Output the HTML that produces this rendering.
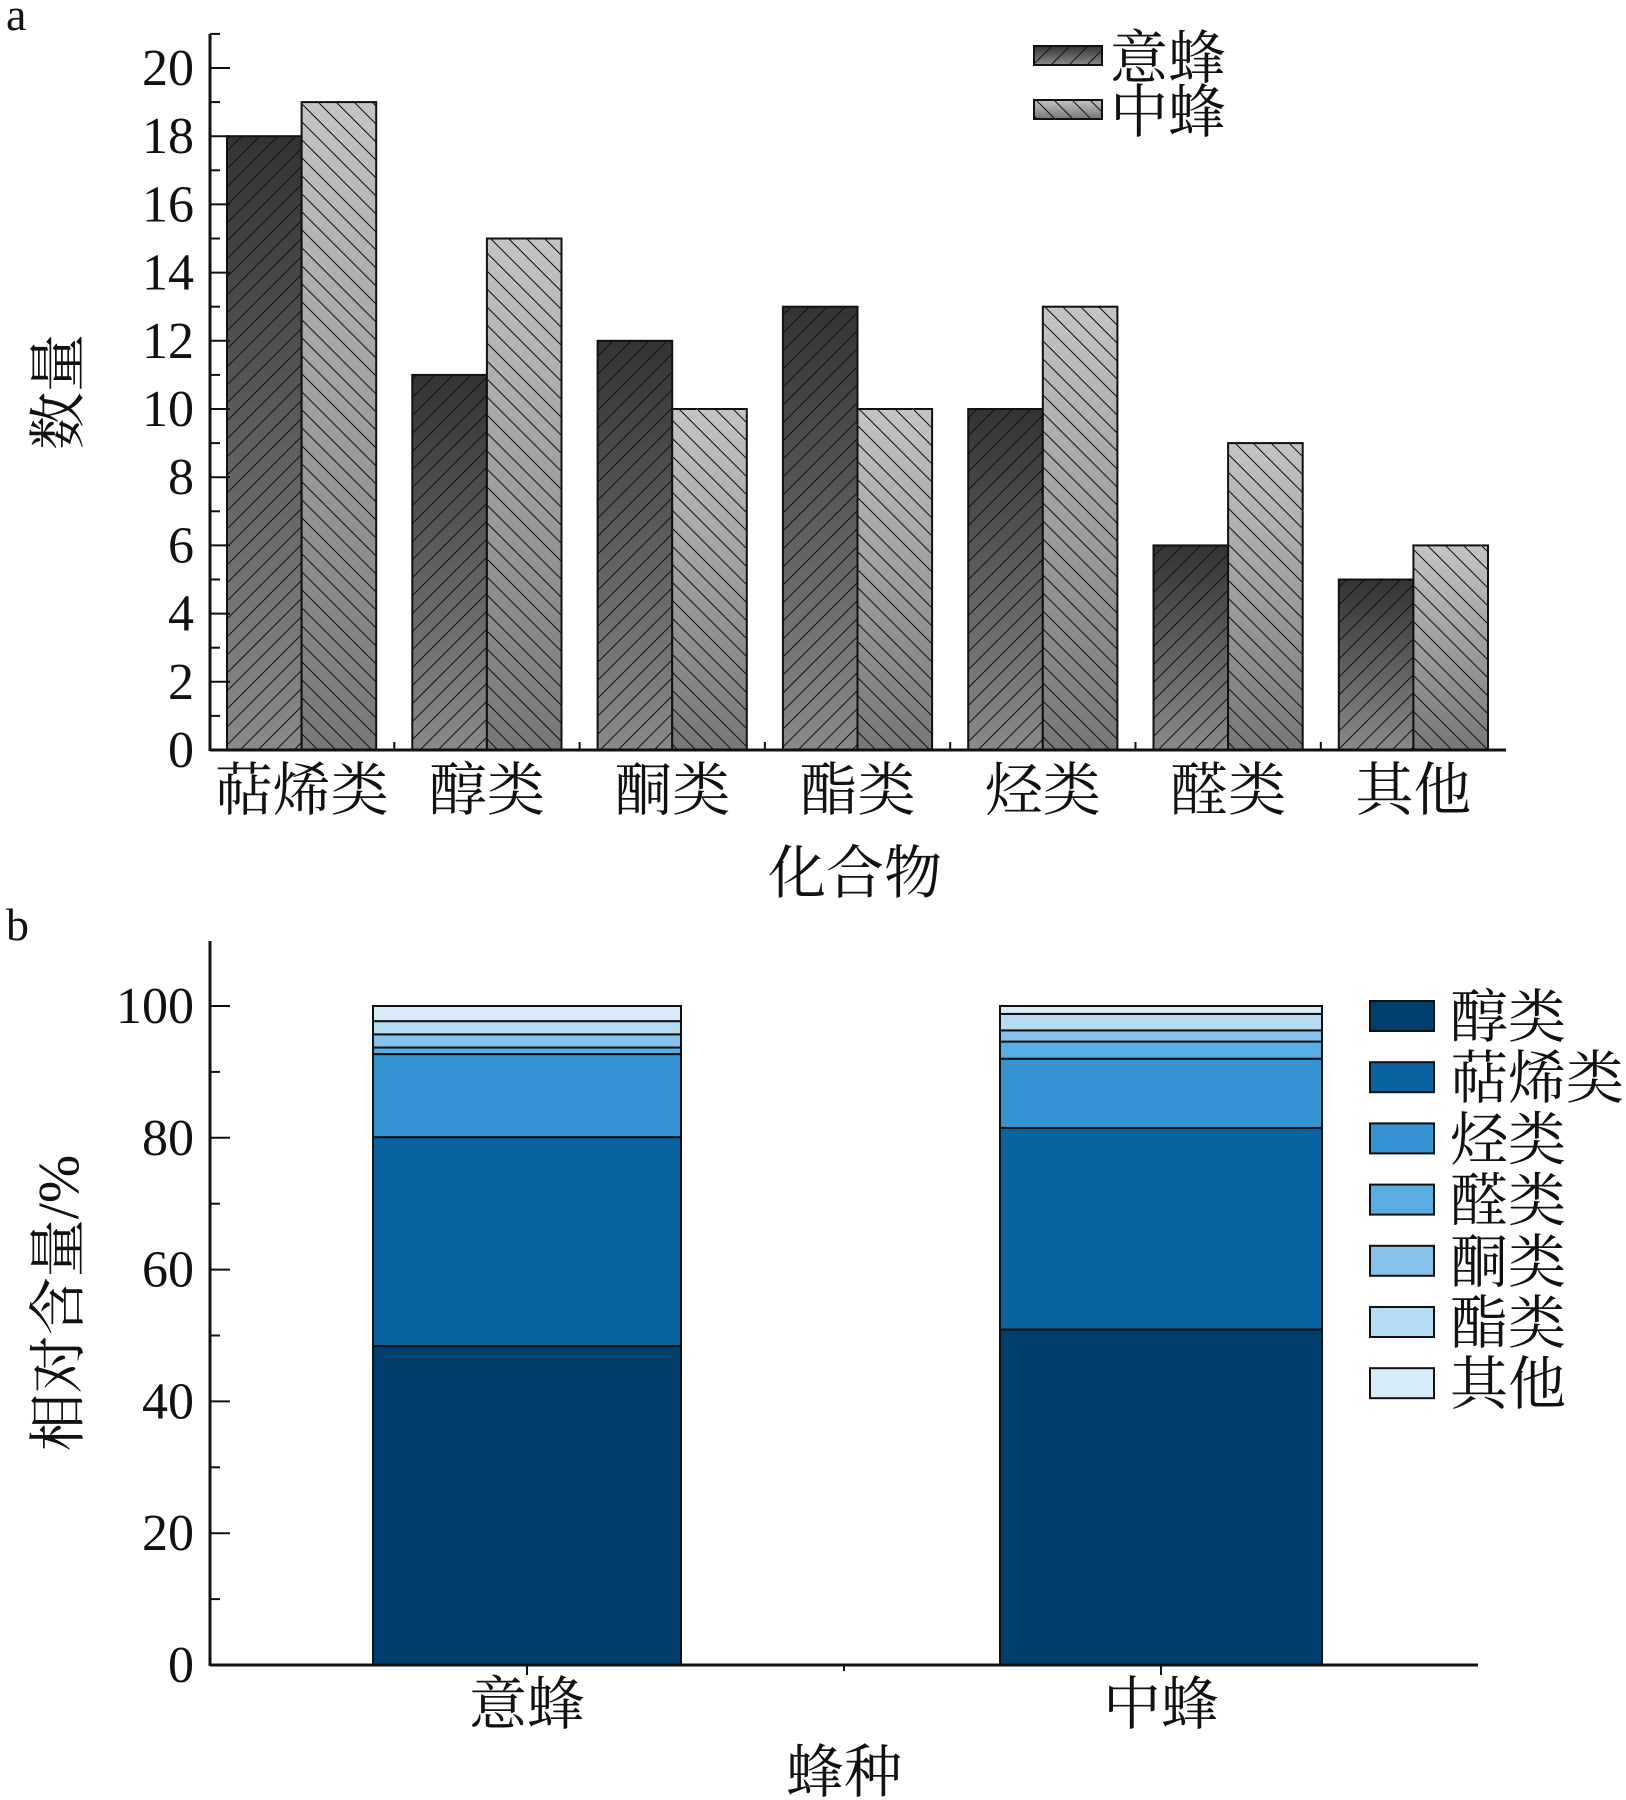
<!DOCTYPE html>
<html><head><meta charset="utf-8">
<style>
html,body{margin:0;padding:0;background:#fff;}
svg{display:block;}
text{font-family:"Liberation Serif","Noto Serif CJK SC",serif;fill:#111;}
</style></head>
<body>
<svg id="chart" width="1626" height="1800" viewBox="0 0 1626 1800" xmlns="http://www.w3.org/2000/svg">
<defs>
<linearGradient id="gDark" x1="0" y1="0" x2="0" y2="1"><stop offset="0" stop-color="#333"/><stop offset="1" stop-color="#8a8a8a"/></linearGradient>
<linearGradient id="gLight" x1="0" y1="0" x2="0" y2="1"><stop offset="0" stop-color="#c4c4c4"/><stop offset="1" stop-color="#777"/></linearGradient>
<pattern id="hatchF" width="18" height="18" patternUnits="userSpaceOnUse"><path d="M-2,20 L20,-2 M-2,2 L2,-2 M16,20 L20,16" stroke="#111" stroke-width="1"/></pattern>
<pattern id="hatchB" width="18" height="18" patternUnits="userSpaceOnUse"><path d="M-2,-2 L20,20 M16,-2 L20,2 M-2,16 L2,20" stroke="#111" stroke-width="1"/></pattern>
</defs>
<text x="6" y="30" font-size="46">a</text>
<text x="6" y="940" font-size="46">b</text>
<g id="pa"></g>
<g id="pb"></g>
</svg>
<script>
// Panel a data
const catsA = ["萜烯类","醇类","酮类","酯类","烃类","醛类","其他"];
const yiFeng = [18,11,12,13,10,6,5];
const zhongFeng = [19,15,10,10,13,9,6];
const ticksA = [0,2,4,6,8,10,12,14,16,18,20];
// Panel b data
const speciesB = ["意蜂","中蜂"];
const classesB = ["醇类","萜烯类","烃类","醛类","酮类","酯类","其他"];
const yiShares = [48.4,31.7,12.6,1.0,2.0,2.0,2.3];
const zhongShares = [50.9,30.6,10.5,2.6,1.7,2.5,1.2];
const ticksB = [0,20,40,60,80,100];

const NS="http://www.w3.org/2000/svg";
function mk(parent,tag,attrs,txt){const e=document.createElementNS(NS,tag);for(const k in attrs)e.setAttribute(k,attrs[k]);if(txt!==undefined)e.textContent=txt;parent.appendChild(e);return e;}
const TICK=52, CJK=58;

// ---------- Panel A ----------
const pa=document.getElementById('pa');
const ax0=210, ay0=750, ayTop=34, axRight=1506;
const yA=v=>ay0-v*34.1;
const groupX=i=>227+i*185.3;
const bw=74.6;
catsA.forEach((c,i)=>{
  const x=groupX(i);
  [[yiFeng,'gDark','hatchF','bar-yifeng-'],[zhongFeng,'gLight','hatchB','bar-zhongfeng-']].forEach((s,j)=>{
    const v=s[0][i], bx=x+j*bw, h=ay0-yA(v);
    const g=mk(pa,'g',{});
    
    
    mk(g,'rect',{x:bx,y:yA(v),width:bw,height:h,fill:'url(#'+s[1]+')'});
    mk(g,'rect',{x:bx,y:yA(v),width:bw,height:h,fill:'url(#'+s[2]+')',stroke:'#111','stroke-width':2});
  });
  const t=mk(pa,'text',{x:x+bw,y:810,'font-size':CJK,'text-anchor':'middle'},c);
  
  
  if(i>0){mk(pa,'line',{x1:x-18,x2:x-18,y1:ay0,y2:ay0-8,stroke:'#111','stroke-width':2});}
});
mk(pa,'line',{x1:ax0,x2:ax0,y1:ayTop,y2:ay0+1,stroke:'#111','stroke-width':3});
mk(pa,'line',{x1:ax0,x2:axRight,y1:ay0,y2:ay0,stroke:'#111','stroke-width':3});
for(let v=0;v<=21;v++){const y=yA(v);mk(pa,'line',{x1:ax0,x2:ax0+(v%2==0?20:10),y1:y,y2:y,stroke:'#111','stroke-width':2});}
ticksA.forEach(v=>{const t=mk(pa,'text',{x:194,y:yA(v)+17,'font-size':TICK,'text-anchor':'end'},v);
  
  });
let t=mk(pa,'text',{x:855,y:893,'font-size':CJK,'text-anchor':'middle'},"化合物");

t=mk(pa,'text',{x:0,y:0,'font-size':CJK,'text-anchor':'middle',transform:'translate(78,392) rotate(-90)'},"数量");

[['gDark','hatchF','意蜂',46],['gLight','hatchB','中蜂',100]].forEach((l,k)=>{
  const g=mk(pa,'g',{});
  
  
  mk(g,'rect',{x:1034,y:l[3],width:68,height:19,fill:'url(#'+l[0]+')'});
  mk(g,'rect',{x:1034,y:l[3],width:68,height:19,fill:'url(#'+l[1]+')',stroke:'#111','stroke-width':2});
  mk(g,'text',{x:1110,y:l[3]+32,'font-size':CJK},l[2]);
});

// ---------- Panel B ----------
const pb=document.getElementById('pb');
const bx0=210, by0=1665, byTop=941, bxRight=1478;
const yB=v=>by0-v*6.59;
const colors=["#003f6b","#0b62a0","#3593d2","#58ade2","#86c2eb","#b6dcf4","#d8ecf8"];
const centers=[527,1161], widths=[308,322];
[yiShares,zhongShares].forEach((shares,i)=>{
  let acc=0;const x=centers[i]-widths[i]/2;
  shares.forEach((v,k)=>{
    const r=mk(pb,'rect',{x:x,y:yB(acc+v),width:widths[i],height:v*6.59,fill:colors[k],stroke:'#111','stroke-width':2});
    
    
    acc+=v;
  });
  const tt=mk(pb,'text',{x:centers[i],y:1724,'font-size':CJK,'text-anchor':'middle'},speciesB[i]);
  
  
  mk(pb,'line',{x1:centers[i],x2:centers[i],y1:by0,y2:by0+10,stroke:'#111','stroke-width':2});
});
mk(pb,'line',{x1:844,x2:844,y1:by0,y2:by0+6,stroke:'#111','stroke-width':2});
mk(pb,'line',{x1:bx0,x2:bx0,y1:byTop,y2:by0+1,stroke:'#111','stroke-width':3});
mk(pb,'line',{x1:bx0,x2:bxRight,y1:by0,y2:by0,stroke:'#111','stroke-width':3});
for(let v=0;v<=100;v+=10){const y=yB(v);mk(pb,'line',{x1:bx0,x2:bx0+(v%20==0?20:10),y1:y,y2:y,stroke:'#111','stroke-width':2});}
ticksB.forEach(v=>{const tt=mk(pb,'text',{x:194,y:yB(v)+17,'font-size':TICK,'text-anchor':'end'},v);
  
  });
t=mk(pb,'text',{x:844,y:1792,'font-size':CJK,'text-anchor':'middle'},"蜂种");

t=mk(pb,'text',{x:0,y:0,'font-size':CJK,'text-anchor':'middle',transform:'translate(78,1303) rotate(-90)'},"相对含量/%");

classesB.forEach((c,k)=>{
  const y=1001+k*61.2;
  const g=mk(pb,'g',{});
  
  
  mk(g,'rect',{x:1370,y:y,width:64,height:30,fill:colors[k],stroke:'#111','stroke-width':2});
  mk(g,'text',{x:1450,y:y+36,'font-size':CJK},c);
});
</script>
</body></html>
